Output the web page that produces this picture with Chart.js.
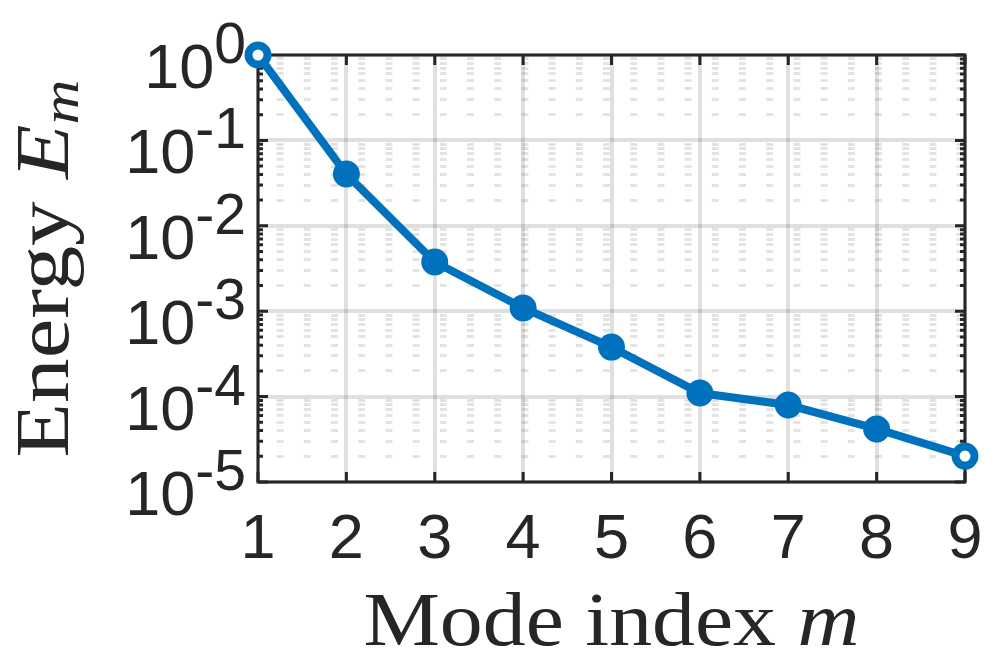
<!DOCTYPE html>
<html>
<head>
<meta charset="utf-8">
<script src="https://cdn.jsdelivr.net/npm/chart.js@4.4.1/dist/chart.umd.min.js"></script>
<style>
  html, body { margin: 0; padding: 0; background: #fff; }
  #wrap { position: relative; width: 996px; height: 661px; }
</style>
</head>
<body>
<div id="wrap"><canvas id="chart" width="996" height="661"></canvas></div>
<script>
// data
const modeIndex = [1, 2, 3, 4, 5, 6, 7, 8, 9];
const energy = [1.0, 0.0404, 0.00377, 0.00109, 0.00038, 0.000110, 0.0000797, 0.0000418, 0.0000201];

// axes
const xTicks = [1, 2, 3, 4, 5, 6, 7, 8, 9];
const yDecades = [0, -1, -2, -3, -4, -5];
const yMinorMultiples = [2, 3, 4, 5, 6, 7, 8, 9];

const BLUE = '#0072BD';
const INK = '#262626';
const SANS = '"Liberation Sans", Arial, sans-serif';
const SERIF = '"Liberation Serif", "Times New Roman", serif';

const yMajor = yDecades.map(k => Math.pow(10, k));
const yMinor = [];
yDecades.slice(1).forEach(k => yMinorMultiples.forEach(m => yMinor.push(m * Math.pow(10, k))));

// mixed roman / italic / subscript text, stretched to a target width
function drawRuns(ctx, runs, size, cx, baseY, targetW) {
  const fontOf = r => `${r.italic ? 'italic ' : ''}${r.sub ? Math.round(size * 0.7) : size}px ${SERIF}`;
  let w = 0;
  runs.forEach(r => { ctx.font = fontOf(r); r.w = ctx.measureText(r.t).width; w += r.w; });
  const sx = targetW / w;
  ctx.save();
  ctx.translate(cx, baseY);
  ctx.scale(sx, 1);
  ctx.textBaseline = 'alphabetic';
  ctx.textAlign = 'left';
  let x = -w / 2;
  runs.forEach(r => {
    ctx.font = fontOf(r);
    ctx.fillText(r.t, x, r.sub ? size * 0.13 : 0);
    x += r.w;
  });
  ctx.restore();
}

const matlabAxes = {
  id: 'matlabAxes',
  beforeDatasetsDraw(chart) {
    const { ctx, chartArea: a, scales } = chart;
    const ys = scales.y, xs = scales.x;
    ctx.save();
    ctx.strokeStyle = INK;
    ctx.lineWidth = 3;
    ctx.beginPath();
    // inward ticks on all four sides
    xTicks.forEach(v => {
      const px = xs.getPixelForValue(v);
      ctx.moveTo(px, a.bottom); ctx.lineTo(px, a.bottom - 10);
      ctx.moveTo(px, a.top); ctx.lineTo(px, a.top + 10);
    });
    yMajor.forEach(v => {
      const py = ys.getPixelForValue(v);
      ctx.moveTo(a.left, py); ctx.lineTo(a.left + 10, py);
      ctx.moveTo(a.right, py); ctx.lineTo(a.right - 10, py);
    });
    yMinor.forEach(v => {
      const py = ys.getPixelForValue(v);
      ctx.moveTo(a.left, py); ctx.lineTo(a.left + 5, py);
      ctx.moveTo(a.right, py); ctx.lineTo(a.right - 5, py);
    });
    ctx.stroke();
    ctx.strokeRect(a.left, a.top, a.right - a.left, a.bottom - a.top);
    ctx.restore();
  },
  afterDraw(chart) {
    const { ctx, chartArea: a, scales } = chart;
    const ys = scales.y;
    ctx.save();
    ctx.fillStyle = INK;
    ctx.textBaseline = 'alphabetic';
    ctx.textAlign = 'left';
    // y tick labels 10^k
    yDecades.forEach(k => {
      const py = ys.getPixelForValue(Math.pow(10, k));
      const sup = String(k);
      ctx.font = `63px ${SANS}`;
      const wBase = ctx.measureText('10').width;
      ctx.font = `57px ${SANS}`;
      const wSup = ctx.measureText(sup).width;
      const x0 = a.left - 12 - wBase - wSup;
      ctx.font = `63px ${SANS}`;
      ctx.fillText('10', x0, py + 33);
      ctx.font = `57px ${SANS}`;
      ctx.fillText(sup, x0 + wBase, py + 8);
    });
    // axis titles
    drawRuns(ctx, [{ t: 'Mode index ' }, { t: 'm', italic: true }], 76,
      (a.left + a.right) / 2, 645, 496);
    ctx.save();
    ctx.translate(68, (a.top + a.bottom) / 2);
    ctx.rotate(-Math.PI / 2);
    drawRuns(ctx, [{ t: 'Energy ' }, { t: 'E', italic: true }, { t: 'm', italic: true, sub: true }], 76,
      0, 0, 378);
    ctx.restore();
    ctx.restore();
  }
};

const isEdge = c => c.dataIndex === 0 || c.dataIndex === modeIndex.length - 1;

new Chart(document.getElementById('chart'), {
  type: 'line',
  data: {
    datasets: [{
      data: modeIndex.map((m, i) => ({ x: m, y: energy[i] })),
      borderColor: BLUE,
      borderWidth: 8,
      tension: 0,
      clip: false,
      pointRadius: c => isEdge(c) ? 9.5 : 11.5,
      pointBorderWidth: c => isEdge(c) ? 8 : 4,
      pointBackgroundColor: c => isEdge(c) ? '#ffffff' : BLUE,
      pointBorderColor: BLUE
    }]
  },
  options: {
    responsive: false,
    animation: false,
    layout: { padding: { top: 55, right: 31, left: 0, bottom: 0 } },
    plugins: { legend: { display: false }, tooltip: { enabled: false } },
    scales: {
      x: {
        type: 'linear', min: 1, max: 9,
        afterBuildTicks: s => { s.ticks = xTicks.map(v => ({ value: v })); },
        afterFit: s => { s.height = 179; s.paddingLeft = 0; s.paddingRight = 0; },
        ticks: { font: { family: SANS, size: 63 }, color: INK, padding: 21, maxRotation: 0, autoSkip: false },
        grid: { color: 'rgba(0,0,0,0.12)', lineWidth: 4, drawTicks: false },
        border: { display: false }
      },
      y: {
        type: 'logarithmic', min: 1e-5, max: 1, position: 'left',
        afterBuildTicks: s => { s.ticks = yMajor.map(v => ({ value: v })); },
        afterFit: s => { s.width = 258; },
        ticks: { display: false },
        grid: { color: 'rgba(0,0,0,0.12)', lineWidth: 4, drawTicks: false },
        border: { display: false }
      },
      yMinor: {
        type: 'logarithmic', min: 1e-5, max: 1, position: 'left',
        afterBuildTicks: s => { s.ticks = yMinor.map(v => ({ value: v })); },
        afterFit: s => { s.width = 0; },
        ticks: { display: false },
        grid: { color: 'rgba(0,0,0,0.11)', lineWidth: 3, drawTicks: false },
        border: { display: false, dash: [7, 20.2], dashOffset: 8.6 }
      }
    }
  },
  plugins: [matlabAxes]
});
</script>
</body>
</html>
